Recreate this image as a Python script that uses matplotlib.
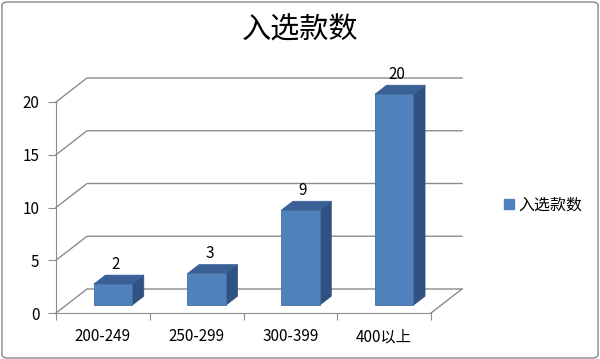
import matplotlib.pyplot as plt
from matplotlib.patches import Polygon, Patch, FancyBboxPatch

plt.rcParams['font.family'] = ['Noto Sans CJK SC', 'DejaVu Sans']

title = "入选款数"
categories = ["200-249", "250-299", "300-399", "400以上"]
counts = [2, 3, 9, 20]
yticks = [0, 5, 10, 15, 20]

front_col = "#4F81BD"
top_col = "#3A6096"
side_col = "#2F5283"
grid_col = "#8C8C8C"

W, H = 600, 359
fig = plt.figure(figsize=(W / 100, H / 100), dpi=100)
# plot area in pixels: x 56..431, y 313 (value 0) .. 102 (value 20)
ax = fig.add_axes([56 / W, (H - 313) / H, 375 / W, 211 / H])
n = len(categories)
ax.set_xlim(0, n)
ax.set_ylim(0, max(yticks))

# depth vector of the floor (31 px right, 24 px up) in data units
DX = 31 / (375 / n)
DY = 24 / (211 / max(yticks))

# back wall + left wall gridlines
for v in yticks:
    ax.plot([0, DX, n + DX], [v, v + DY, v + DY], color=grid_col, lw=1,
            clip_on=False, zorder=1)
# right edge of floor
ax.plot([n, n + DX], [0, DY], color=grid_col, lw=1, clip_on=False, zorder=1)

# bars
bw = 0.41
d0, d1 = 0.32, 0.70
for i, v in enumerate(counts):
    x0 = i + 0.5 - bw / 2 + d0 * DX
    y0 = d0 * DY
    x1 = x0 + bw
    ox = (d1 - d0) * DX
    oy = (d1 - d0) * DY
    side = Polygon([(x1, y0), (x1 + ox, y0 + oy), (x1 + ox, y0 + oy + v), (x1, y0 + v)],
                   closed=True, facecolor=side_col, edgecolor=side_col, lw=0.5,
                   clip_on=False, zorder=3)
    top = Polygon([(x0, y0 + v), (x1, y0 + v), (x1 + ox, y0 + oy + v), (x0 + ox, y0 + oy + v)],
                  closed=True, facecolor=top_col, edgecolor=top_col, lw=0.5,
                  clip_on=False, zorder=3)
    front = Polygon([(x0, y0), (x1, y0), (x1, y0 + v), (x0, y0 + v)],
                    closed=True, facecolor=front_col, edgecolor="#44709F", lw=0.6,
                    clip_on=False, zorder=4)
    for p in (side, top, front):
        ax.add_patch(p)
    ax.text(x0 + bw / 2 + 0.03, y0 + oy + v + 0.2, str(v), ha="center", va="bottom",
            fontsize=11, color="#000000", zorder=5, clip_on=False)

# axes
for s in ["top", "right"]:
    ax.spines[s].set_visible(False)
ax.spines["left"].set_color(grid_col)
ax.spines["bottom"].set_color(grid_col)
ax.set_yticks(yticks)
ax.tick_params(axis="y", direction="out", length=6, color=grid_col, pad=6, labelsize=11)
ax.set_xticks(range(n + 1))
ax.set_xticklabels([])
ax.tick_params(axis="x", which="major", direction="out", length=5, color=grid_col)
ax.set_xticks([i + 0.5 for i in range(n)], minor=True)
ax.set_xticklabels(categories, minor=True)
ax.tick_params(axis="x", which="minor", length=0, pad=11, labelsize=11)
ax.patch.set_visible(False)

fig.text(0.5, 1 - 31 / H, title, ha="center", va="center", fontsize=21)

fig.legend(handles=[Patch(facecolor=front_col, edgecolor=front_col, label=title)],
           loc="center left", bbox_to_anchor=(490 / W, 1 - 205 / H), frameon=False,
           handlelength=0.6, handleheight=0.6, handletextpad=0.3, fontsize=11.5)

border = FancyBboxPatch((2 / W, 1 / H), 1 - 4 / W, 1 - 3 / H,
                        boxstyle="round,pad=0,rounding_size=0.01",
                        transform=fig.transFigure, facecolor="none",
                        edgecolor="#8A8A8A", lw=1)
fig.patches.append(border)

fig.savefig("out.png", dpi=100)
